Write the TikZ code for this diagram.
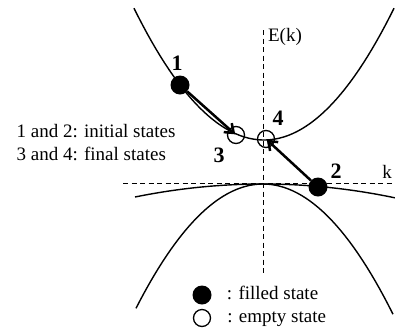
\documentclass[tikz,border=0pt]{standalone}
\usepackage{fontspec}
\setmainfont{Liberation Serif}
\usetikzlibrary{arrows.meta, positioning}

\begin{document}
\begin{tikzpicture}[
      x=1pt, y=-1pt,
      font=\fontsize{19}{23}\selectfont,
      banda/.style={line width=1.4pt},
      eixo/.style={line width=0.9pt, dash pattern=on 5pt off 3.5pt},
      cheio/.style={circle, fill=black, inner sep=0pt, minimum size=19pt},
      vazio/.style={circle, draw, line width=1.3pt, inner sep=0pt, minimum size=17pt},
      numero/.style={font=\fontsize{22}{25}\selectfont\bfseries, inner sep=0pt},
      texto/.style={inner sep=0pt, text height=13pt, text depth=4pt},
      seta/.style={-{Straight Barb[length=8pt, width=12pt]}, line width=2.5pt,
                   shorten >=1pt}
    ]
    \useasboundingbox (0,0) rectangle (395,327);
    % eixos
    \draw[eixo] (263,30) -- (263,275);
    \draw[eixo] (123,183) -- (395,183);
    \node (ek) at (285,37) {E(k)};
    \node (k) at (387,172) {k};
    % bandas
    \draw[banda, domain=134:394, samples=60]
      plot (\x, {140-0.0078*(\x-264)*(\x-264)});
    \draw[banda, domain=136:393, samples=60]
      plot (\x, {184+0.0077*(\x-263)*(\x-263)});
    \draw[banda, domain=135:395, samples=40]
      plot (\x, {184+0.0008*(\x-263)*(\x-263)});
    % estados
    \node[cheio] (c1) at (180,85) {};
    \node[cheio] (c2) at (318,187) {};
    \node[vazio] (c3) at (236,135) {};
    \node[vazio] (c4) at (266,139) {};
    \node[numero] (n1) at (177,63) {1};
    \node[numero] (n2) at (336,171) {2};
    \node[numero] (n3) at (219,155) {3};
    \node[numero] (n4) at (278,118) {4};
    \draw[seta] (c1) -- (c3.center);
    \draw[seta] (c2) -- (c4.center);
    \node[align=left] (notas) at (96,143) {1 and 2: initial states\\
      3 and 4: final states};
    % legenda
    \node[cheio] (lc) at (202,295) {};
    \node[texto, right=15pt of lc] (lct) {: filled state};
    \node[vazio] (lv) at (202,318) {};
    \node[texto, right=16pt of lv] (lvt) {: empty state};
  \end{tikzpicture}
\end{document}
